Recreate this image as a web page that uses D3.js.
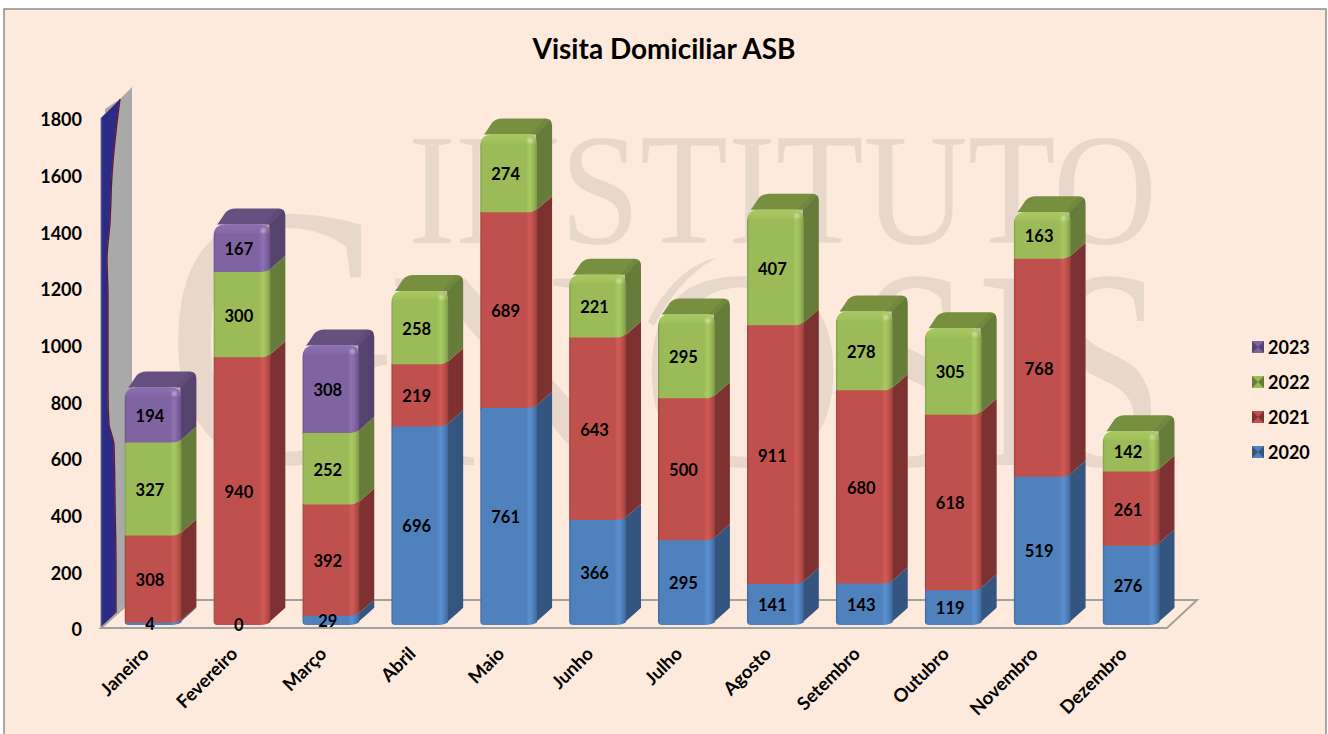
<!DOCTYPE html>
<html><head><meta charset="utf-8">
<script src="https://cdnjs.cloudflare.com/ajax/libs/d3/7.8.5/d3.min.js"></script>
<style>html,body{margin:0;padding:0;background:#fff}svg{display:block}text{font-family:Lato,"Open Sans",sans-serif}</style>
</head><body><svg id="c" width="1328" height="734"></svg>
<script>
const months=["Janeiro","Fevereiro","Março","Abril","Maio","Junho","Julho","Agosto","Setembro","Outubro","Novembro","Dezembro"];
const seriesNames=["2020","2021","2022","2023"];
const v2020=[4,0,29,696,761,366,295,141,143,119,519,276];
const v2021=[308,940,392,219,689,643,500,911,680,618,768,261];
const v2022=[327,300,252,258,274,221,295,407,278,305,163,142];
const v2023=[194,167,308,0,0,0,0,0,0,0,0,0];
const yTicks=[0,200,400,600,800,1000,1200,1400,1600,1800];
const front=["#4f81bd","#c0504d","#9bbb59","#8064a2"];
const light=["#5b90cf","#cf5c58","#a8ca62","#8d70b2"];
const edge=["#3f6899","#9d413e","#7f9a48","#684f86"];
const side=["#33557f","#7d3231","#667c3a","#55436e"];
const topc=["#3f6899","#8a3a38","#76903f","#66507f"];
const dx=15,dy=16;
const svg=d3.select("#c");
const defs=svg.append("defs");
svg.append("rect").attr("width",1328).attr("height",734).attr("fill","#fff");
svg.append("rect").attr("x",4).attr("y",9).attr("width",1322).attr("height",740).attr("fill","#fdeadc").attr("stroke","#8c8c8c").attr("stroke-width",1.5);
// watermark
const wmFill="#e8d8cb";
const wm=svg.append("g").attr("fill",wmFill);
function wmText(s,x,y,size,len){wm.append("text").attr("x",x).attr("y",y).attr("font-size",size).attr("textLength",len).attr("lengthAdjust","spacingAndGlyphs").style("font-family","'Liberation Serif',serif").text(s);}
wmText("INSTITUTO",408,243,159,749);
wmText("G",165,462,375,232);
wmText("N",385,465,285,255);
wmText("O",640,465,285,205);
wmText("S",858,465,285,112);
wmText("I",975,465,285,80);
wmText("S",1048,465,285,116);
wm.append("path").attr("d","M648,322C662,290 690,262 717,258C695,268 672,292 654,326Z");

const x=d3.scaleBand().domain(months).range([108.5,1175.5]).paddingInner(0.36).paddingOuter(0.18);
const y=d3.scaleLinear().domain([0,1800]).range([624,113]);
const yAxisScale=d3.scaleLinear().domain([0,1800]).range([628,118]);
// left wall: [axis value, offset into the wall]
const wallValues=[[1800,19],[1700,15],[1560,11],[1400,9],[1280,6],[1150,7],[1000,7],[800,7],[690,8],[640,11],[600,13],[400,14],[150,15],[0,15]];
const wallX=101;
const wallPts=wallValues.map(d=>[wallX+d[1],yAxisScale(d[0])-d[1]]);
const wallCurve=d3.line().curve(d3.curveMonotoneY);
const wallTop=[wallX+19,yAxisScale(1800)-19];
// grey back of the wall reaches from inside the blue area to the far edge
svg.append("path").attr("d",`M${wallX+4},${wallTop[1]+10}L${wallTop[0]},${wallTop[1]}L${wallTop[0]+12},${wallTop[1]-12}L${wallTop[0]+12},${yAxisScale(0)-30}L${wallX+15},${yAxisScale(0)-15}L${wallX+4},${yAxisScale(0)-15}Z`).attr("fill","#a9a9a9");
svg.append("path").attr("d",`M${wallX},${yAxisScale(1800)}L${wallTop}`+wallCurve(wallPts).replace(/^M/,"L")+`L${wallX},${yAxisScale(0)}Z`).attr("fill","#2b2c85").attr("stroke","#7b7b95").attr("stroke-width",1);
svg.append("path").attr("d",wallCurve(wallPts)).attr("fill","none").attr("stroke","#6b1630").attr("stroke-width",1.3);
// floor
const fy=yAxisScale(0);
svg.append("path").attr("d",`M${wallX},${fy}L1167,${fy}L1197,${fy-28}L${wallX+31},${fy-28}Z`).attr("fill","none").attr("stroke","#a3a19e").attr("stroke-width",2);
// gradients
front.forEach((c,i)=>{
 const g=defs.append("linearGradient").attr("id","g"+i);
 [[0,edge[i]],[.04,c],[.8,c],[.87,light[i]],[.93,c],[1,edge[i]]].forEach(s=>g.append("stop").attr("offset",s[0]).attr("stop-color",s[1]));
 const t=defs.append("linearGradient").attr("id","t"+i).attr("x1",0).attr("x2",0).attr("y1",0).attr("y2",1);
 t.append("stop").attr("offset",0).attr("stop-color",light[i]);
 t.append("stop").attr("offset",1).attr("stop-color",light[i]).attr("stop-opacity",0);
});
defs.append("filter").attr("id","soft").append("feGaussianBlur").attr("stdDeviation",1);
const all=[v2020,v2021,v2022,v2023];
months.forEach((m,mi)=>{
 const bx=x(m),bw=x.bandwidth(),R=bx+bw;
 let seg=[],acc=0;
 all.forEach((s,si)=>{if(s[mi]>0){seg.push({si,v:s[mi],a:acc,b:acc+s[mi]});acc+=s[mi];}});
 const topY=y(acc),base=y(0);
 const g=svg.append("g");
 const cid="clip"+mi;
 defs.append("clipPath").attr("id",cid).append("path").attr("d",(()=>{
   const t=topY-dy,b=base+1,RR=R+dx;
   return `M${bx},${topY+12}Q${bx},${topY+4} ${bx+6},${topY-3}L${bx+dx-3},${t+4}Q${bx+dx+1},${t} ${bx+dx+7},${t}L${RR-7},${t}Q${RR},${t} ${RR},${t+7}L${RR},${base-dy}L${R+2},${base-3}Q${R-3},${b} ${R-10},${b}L${bx+4},${b}Q${bx},${b} ${bx},${b-4}Z`;
 })());
 const cg=g.append("g").attr("clip-path",`url(#${cid})`);
 seg.forEach(d=>{
  const yt=y(d.b),yb=y(d.a);
  cg.append("path").attr("d",`M${R-1},${yb-2}L${R+dx+1},${yb-dy-1}L${R+dx+1},${yt-dy-1}L${R-1},${yt-2}Z`).attr("fill",side[d.si]);
 });
 const last=seg[seg.length-1];
 // cap
 cg.append("path").attr("d",`M${bx},${topY}L${bx+dx},${topY-dy-1}L${R+dx+1},${topY-dy-1}L${R},${topY}Z`).attr("fill",topc[last.si]);
 cg.append("path").attr("d",`M${R-6},${topY}L${R+dx-7},${topY-dy}L${R+dx+1},${topY-dy}L${R},${topY+6}Z`).attr("fill",side[last.si]).attr("opacity",.35);
 // front faces, top to bottom so each lower colour overlays the seam above it
 seg.slice().reverse().forEach((d,k)=>{
  const yt=y(d.b),yb=y(d.a);
  const isTop=k===0;
  const head=isTop
    ?`M${bx},${yt+12}Q${bx},${yt} ${bx+13},${yt}L${R-10},${yt}Q${R},${yt} ${R},${yt+10}`
    :`M${bx},${yt}L${R-9},${yt}Q${R-4},${yt} ${R},${yt-3}`;
  cg.append("path").attr("d",head+`L${R},${yb+1}L${bx},${yb+1}Z`).attr("fill",`url(#g${d.si})`);
 });
 // top bevel and highlight
 cg.append("path").attr("d",`M${bx},${topY+12}Q${bx},${topY} ${bx+13},${topY}L${R-10},${topY}Q${R},${topY} ${R},${topY+10}L${R},${topY+9}L${bx},${topY+9}Z`).attr("fill",`url(#t${last.si})`);
 cg.append("ellipse").attr("cx",R-7).attr("cy",topY+6).attr("rx",2.6).attr("ry",2.6).attr("fill","#fff").attr("opacity",.35).attr("filter","url(#soft)");
 // labels
 all.forEach((s,si)=>{
  if(si===3&&s[mi]===0)return;
  const a=d3.sum(all.slice(0,si),q=>q[mi]);
  g.append("text").attr("x",bx+bw/2-3).attr("y",y(a+s[mi]/2)+7).attr("text-anchor","middle").attr("font-size",16.5).attr("font-weight",700).attr("fill","#000").text(s[mi]);
 });
 svg.append("text").attr("transform",`translate(${bx+bw/2-3},${655}) rotate(-45)`).attr("text-anchor","end").attr("font-size",18.5).attr("font-weight",700).attr("fill","#000").text(m);
});
// y axis
const ax=svg.append("g").attr("transform","translate(82,2)").call(d3.axisLeft(yAxisScale).tickValues(yTicks).tickSize(0).tickPadding(0).tickFormat(d3.format("d")));
ax.select(".domain").remove();
ax.selectAll("text").attr("font-size",18).attr("font-weight",700).attr("fill","#000").style("font-family","Lato,sans-serif");
// title
svg.append("text").attr("x",664).attr("y",59).attr("text-anchor","middle").attr("font-size",28).attr("font-weight",700).attr("fill","#000").text("Visita Domiciliar ASB");
// legend
const legendY=d3.scalePoint().domain(["2023","2022","2021","2020"]).range([347,452]);
seriesNames.forEach((n,i)=>{
 const ly=legendY(n);
 const lg=svg.append("g").attr("transform",`translate(1252,${ly})`);
 lg.append("rect").attr("x",0).attr("y",-6).attr("width",12).attr("height",12).attr("fill",side[i]);
 lg.append("path").attr("d","M0,-6L12,-6L6,0Z M0,6L12,6L6,0Z").attr("fill",front[i]);
 lg.append("text").attr("x",16).attr("y",7).attr("font-size",18).attr("font-weight",700).attr("fill","#000").text(n);
});
</script></body></html>
